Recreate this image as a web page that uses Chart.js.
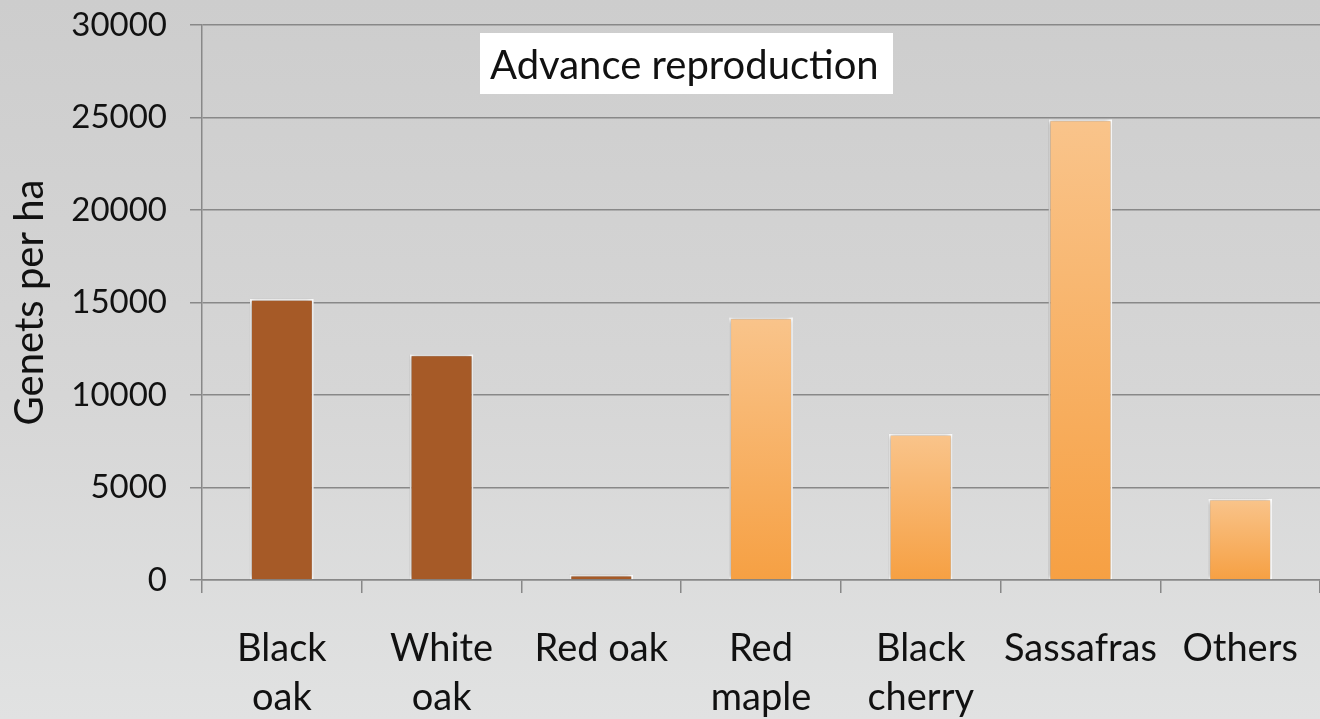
<!DOCTYPE html>
<html>
<head>
<meta charset="utf-8">
<script src="https://cdn.jsdelivr.net/npm/chart.js@4.4.1/dist/chart.umd.min.js"></script>
<style>
  html, body { margin: 0; padding: 0; }
  body {
    width: 1320px; height: 719px; overflow: hidden;
    background: linear-gradient(to bottom, #cdcdcd 0%, #d6d6d6 55%, #e1e2e2 100%);
  }
  #wrap { position: relative; width: 1320px; height: 719px; }
</style>
</head>
<body>
<div id="wrap"><canvas id="c" width="1320" height="719"></canvas></div>
<script>
// Species groups and advance-reproduction density (genets per ha)
const categories = [["Black", "oak"], ["White", "oak"], "Red oak", ["Red", "maple"], ["Black", "cherry"], "Sassafras", "Others"];
const genetsPerHa = [15200, 12200, 300, 14200, 7900, 24900, 4400];
const isOak = [true, true, true, false, false, false, false];
const yTicks = [0, 5000, 10000, 15000, 20000, 25000, 30000];
const chartTitle = "Advance reproduction";
const yTitle = "Genets per ha";

const FONT = "Lato, 'Open Sans', sans-serif";

// Vertical gradient per bar, from its top down to the baseline
function barFill(ctx) {
  const chart = ctx.chart;
  const i = ctx.dataIndex;
  if (isOak[i]) return "#a65a27";
  const area = chart.chartArea;
  if (!area) return "#f7ad5c";
  const y = chart.scales.y;
  const top = y.getPixelForValue(genetsPerHa[i]);
  const base = y.getPixelForValue(0);
  const g = chart.ctx.createLinearGradient(0, top, 0, base);
  g.addColorStop(0, "#f9c48b");
  g.addColorStop(1, "#f6a043");
  return g;
}

// Soft drop shadow behind the bars
const barShadow = {
  id: "barShadow",
  beforeDatasetsDraw(chart) {
    const c = chart.ctx;
    c.save();
    c.shadowColor = "rgba(0,0,0,0.4)";
    c.shadowBlur = 5;
    c.shadowOffsetX = -1;
    c.shadowOffsetY = 0;
  },
  afterDatasetsDraw(chart) { chart.ctx.restore(); }
};

// Boxed title inside the plot area
const boxedTitle = {
  id: "boxedTitle",
  afterDraw(chart) {
    const c = chart.ctx;
    c.save();
    c.font = "40px " + FONT;
    const x0 = 480, y0 = 33, bw = 413, bh = 61;
    c.fillStyle = "#ffffff";
    c.fillRect(x0, y0, bw, bh);
    c.fillStyle = "#111111";
    c.textBaseline = "middle";
    c.textAlign = "left";
    c.fillText(chartTitle, x0 + 10, y0 + bh / 2 + 3);
    c.restore();
  }
};

new Chart(document.getElementById("c"), {
  type: "bar",
  data: {
    labels: categories,
    datasets: [{
      data: genetsPerHa,
      backgroundColor: barFill,
      borderColor: "#ffffff",
      borderWidth: 2,
      borderSkipped: "bottom",
      categoryPercentage: 1,
      barPercentage: 0.4
    }]
  },
  options: {
    responsive: false,
    animation: false,
    devicePixelRatio: 1,
    layout: { padding: 0 },
    plugins: { legend: { display: false }, tooltip: { enabled: false } },
    scales: {
      x: {
        grid: {
          display: true,
          drawOnChartArea: false,
          drawTicks: true,
          tickLength: 13,
          color: "#888888",
          lineWidth: 1.5,
          offset: true
        },
        border: { display: true, color: "#888888", width: 1.5 },
        ticks: {
          color: "#111111",
          font: { family: FONT, size: 38, lineHeight: 1.3 },
          padding: 31,
          maxRotation: 0,
          autoSkip: false
        },
        afterFit(scale) {
          scale.height = 139;
          scale.paddingLeft = 0;
          scale.paddingRight = 0;
        }
      },
      y: {
        min: 0,
        max: 30000,
        afterBuildTicks(scale) { scale.ticks = yTicks.map(v => ({ value: v })); },
        grid: {
          color: "#888888",
          lineWidth: 1.5,
          tickLength: 12
        },
        border: { display: true, color: "#888888", width: 1.5 },
        ticks: {
          color: "#111111",
          font: { family: FONT, size: 33 },
          padding: 23,
          callback: v => String(v)
        },
        title: {
          display: true,
          text: yTitle,
          color: "#111111",
          font: { family: FONT, size: 40 },
          padding: { top: 6, bottom: 0 }
        },
        afterFit(scale) {
          scale.width = 202;
          scale.paddingTop = 25;
          scale.paddingBottom = 0;
        }
      }
    }
  },
  plugins: [barShadow, boxedTitle]
});
</script>
</body>
</html>
